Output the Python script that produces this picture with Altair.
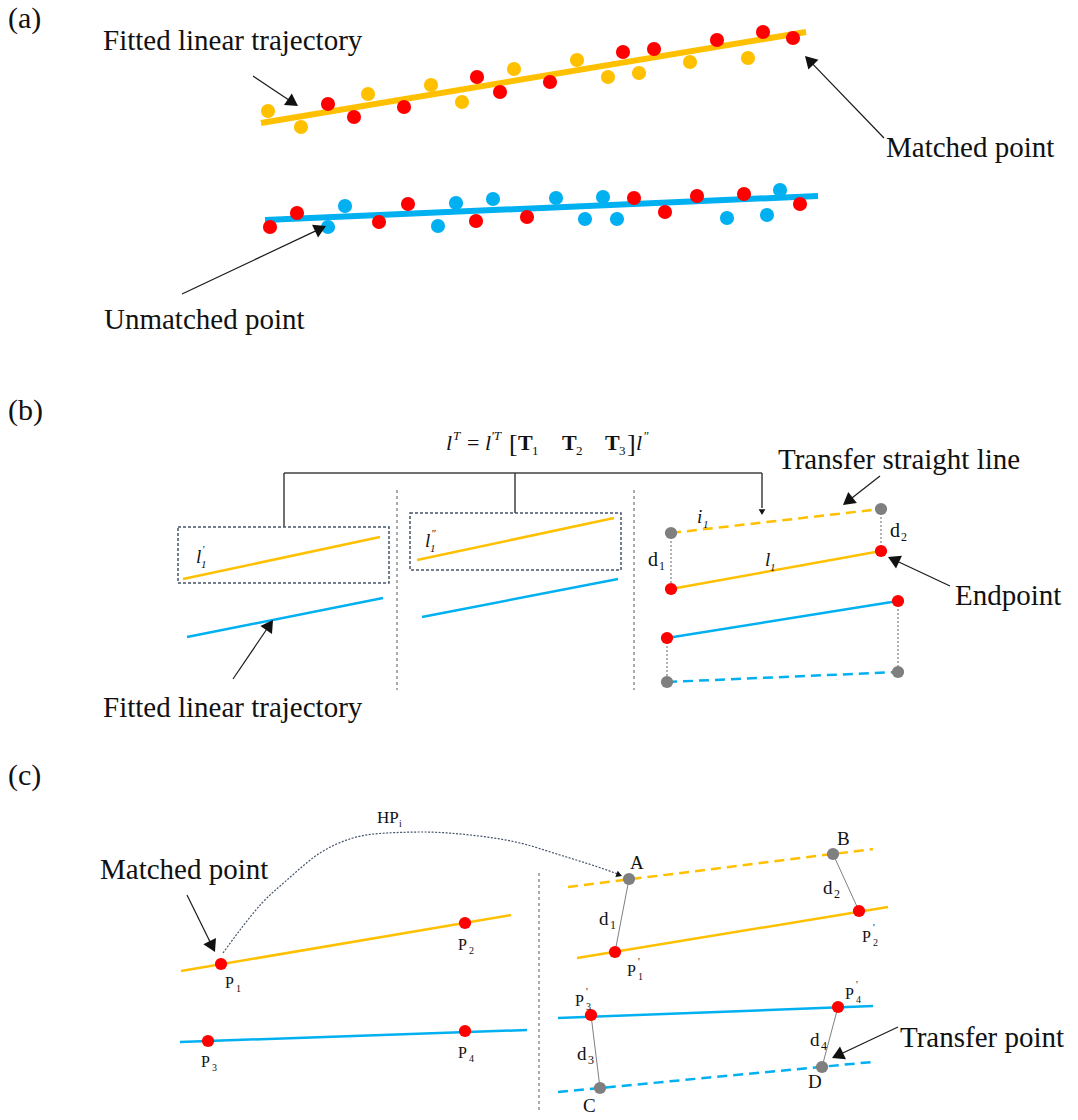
import math
import altair as alt
import pandas as pd

W, H = 1078, 1120
ORANGE = "#FFC000"
BLUE = "#00B0F0"
RED = "#FF0000"
GREY = "#7F7F7F"
SLATE = "#44546A"
DARK = "#404040"
FONT = "Liberation Serif"

# ---------------- (a) scatter points ----------------
a_orange_x = [268, 301, 368, 431, 462, 514, 577, 608, 639, 690, 748]
a_orange_y = [111, 127, 94, 85, 102, 69, 60, 77, 73, 62, 58]
a_red_top_x = [328, 354, 404, 477, 500, 550, 623, 654, 717, 763, 793]
a_red_top_y = [104, 117, 107, 77, 92, 82, 52, 49, 40, 32, 38]
a_blue_x = [328, 345, 438, 456, 493, 556, 585, 603, 617, 727, 767, 780]
a_blue_y = [227, 206, 226, 203, 199, 198, 219, 197, 219, 218, 215, 190]
a_red_bot_x = [270, 297, 379, 408, 476, 527, 634, 665, 697, 744, 800]
a_red_bot_y = [227, 213, 222, 204, 221, 217, 198, 212, 196, 194, 204]

# ---------------- markers in (b) and (c) ----------------
# (x, y, colour)
bc_points = [
    (671, 533, GREY), (881, 509, GREY), (671, 589, RED), (881, 551, RED),
    (667, 638, RED), (898, 601, RED), (667, 682, GREY), (898, 672, GREY),
    (221, 964, RED), (465, 923, RED), (208, 1041, RED), (465, 1031, RED),
    (629, 879, GREY), (833, 854, GREY), (615, 952, RED), (859, 911, RED),
    (591, 1015, RED), (838, 1007, RED), (600, 1088, GREY), (822, 1067, GREY),
]

# ---------------- segments: (x1, y1, x2, y2, colour, width) ----------------
solid_segments = [
    # (a) fitted lines
    (261, 123, 806, 32, ORANGE, 6),
    (265, 220, 818, 196, BLUE, 6),
    # (b) left / middle panels
    (183, 579, 380, 537, ORANGE, 2.5),
    (187, 637, 383, 598, BLUE, 2.5),
    (417, 560, 614, 518, ORANGE, 2.5),
    (422, 617, 618, 579, BLUE, 2.5),
    # (b) right panel
    (671, 589, 881, 551, ORANGE, 2.5),
    (667, 638, 898, 601, BLUE, 2.5),
    # (b) bracket
    (284, 473, 762, 473, DARK, 1.5),
    (284, 473, 284, 527, DARK, 1.5),
    (515, 473, 515, 513, DARK, 1.5),
    (762, 473, 762, 508, DARK, 1.5),
    # (c) left
    (181, 971, 511, 915, ORANGE, 2.5),
    (180, 1042, 527, 1030, BLUE, 2.5),
    # (c) right
    (577, 958, 888, 907, ORANGE, 2.5),
    (558, 1018, 873, 1006, BLUE, 2.5),
    # (c) distance connectors
    (629, 879, 615, 952, GREY, 1),
    (833, 854, 859, 911, GREY, 1),
    (591, 1015, 600, 1088, GREY, 1),
    (838, 1007, 822, 1067, GREY, 1),
]

dashed_segments = [
    (671, 533, 881, 509, ORANGE, 2.5),
    (667, 682, 898, 672, BLUE, 2.5),
    (568, 887, 873, 849, ORANGE, 2.5),
    (558, 1092, 872, 1062, BLUE, 2.5),
]

dotted_segments = [
    (671, 533, 671, 589, GREY, 1.2),
    (881, 509, 881, 551, GREY, 1.2),
    (667, 638, 667, 682, GREY, 1.2),
    (898, 601, 898, 672, GREY, 1.2),
]

separator_segments = [
    (397, 490, 397, 690, GREY, 1.3),
    (634, 490, 634, 690, GREY, 1.3),
    (539, 873, 539, 1110, GREY, 1.3),
]

# dotted boxes (x1, y1, x2, y2)
boxes = [(178, 527, 389, 583), (410, 513, 621, 570)]

# arrows: (tail x, tail y, tip x, tip y, head size)
arrows = [
    (253, 76, 298, 106, 196),
    (884, 138, 805, 56, 196),
    (182, 294, 326, 226, 196),
    (233, 679, 273, 620, 196),
    (880, 476, 843, 505, 196),
    (950, 586, 888, 557, 196),
    (187, 895, 215, 952, 196),
    (898, 1027, 832, 1058, 196),
]
small_arrowheads = [
    (762, 473, 762, 515, 45),
    (598, 867, 622, 876, 45),
]

# HP_i curve
hp_x = [223, 240, 262, 287, 320, 353, 387, 423, 470, 520, 560, 595, 618]
hp_y = [953, 930, 903, 880, 853, 838, 833, 832, 835, 843, 855, 866, 874]

# ---------------- text pieces: (text, x_left, y_baseline, size) ----------------
normal_text = [
    ("(a)", 8, 28, 30),
    ("Fitted linear trajectory", 103, 50, 29),
    ("Matched point", 886, 157, 29),
    ("Unmatched point", 104, 329, 29),
    ("(b)", 8, 420, 30),
    ("Transfer straight line", 778, 469, 29),
    ("Endpoint", 955, 605, 29),
    ("Fitted linear trajectory", 103, 717, 29),
    ("(c)", 8, 785, 30),
    ("Matched point", 100, 879, 29),
    ("Transfer point", 900, 1047, 29),
    # formula pieces
    ("=", 467, 450, 22),
    ("[", 509, 452, 26),
    ("1", 532, 455, 13),
    ("2", 576, 455, 13),
    ("3", 619, 455, 13),
    ("]", 627, 452, 26),
    # (b) labels
    ("d", 648, 566, 20), ("1", 659, 570, 12),
    ("d", 890, 537, 20), ("2", 901, 541, 12),
    # (c) labels
    ("HP", 377, 823, 17), ("i", 399, 827, 10),
    ("P", 225, 988, 16), ("1", 236, 992, 10),
    ("P", 458, 950, 16), ("2", 469, 954, 10),
    ("P", 201, 1067, 16), ("3", 212, 1071, 10),
    ("P", 458, 1058, 16), ("4", 469, 1062, 10),
    ("P", 627, 976, 16), ("'", 638, 965, 10), ("1", 638, 980, 10),
    ("P", 862, 942, 16), ("'", 873, 931, 10), ("2", 873, 946, 10),
    ("P", 575, 1006, 16), ("'", 586, 995, 10), ("3", 586, 1010, 10),
    ("P", 845, 999, 16), ("'", 856, 988, 10), ("4", 856, 1003, 10),
    ("A", 630, 869, 19),
    ("B", 837, 845, 19),
    ("C", 583, 1112, 19),
    ("D", 808, 1088, 19),
    ("d", 599, 925, 19), ("1", 610, 929, 12),
    ("d", 823, 894, 19), ("2", 834, 898, 12),
    ("d", 577, 1060, 19), ("3", 588, 1064, 12),
    ("d", 810, 1046, 19), ("4", 821, 1050, 12),
]
italic_text = [
    ("l", 446, 450, 22), ("T", 453, 440, 13),
    ("l", 485, 450, 22), ("'T", 491, 440, 13),
    ("l", 636, 450, 22), ("\"", 643, 440, 13),
    ("l", 196, 563, 19), ("'", 202, 553, 11), ("1", 201, 568, 11),
    ("l", 425, 547, 19), ("\"", 431, 537, 11), ("1", 430, 552, 11),
    ("i", 697, 523, 19), ("1", 703, 528, 11),
    ("l", 765, 566, 19), ("1", 770, 571, 11),
]
bold_text = [
    ("T", 518, 450, 22),
    ("T", 562, 450, 22),
    ("T", 605, 450, 22),
]

# ---------------- build tables ----------------
XS = alt.Scale(domain=[0, W], range=[0, W], nice=False, zero=False)
YS = alt.Scale(domain=[0, H], reverse=True, nice=False, zero=False)


def X(f):
    return alt.X(f, type="quantitative", scale=XS, axis=None)


def Y(f):
    return alt.Y(f, type="quantitative", scale=YS, axis=None)


def seg_df(segs):
    return pd.DataFrame(segs, columns=["x", "y", "x2", "y2", "c", "w"])


def rule_layer(segs, dash=None):
    kw = {}
    if dash is not None:
        kw["strokeDash"] = dash
    return alt.Chart(seg_df(segs)).mark_rule(**kw).encode(
        x=X("x"), y=Y("y"), x2="x2:Q", y2="y2:Q",
        color=alt.Color("c:N", scale=None),
        strokeWidth=alt.StrokeWidth("w:Q", scale=None),
    )


layers = []
layers.append(rule_layer(solid_segments))
layers.append(rule_layer(dashed_segments, [10, 6]))
layers.append(rule_layer(dotted_segments, [2, 2]))
layers.append(rule_layer(separator_segments, [3, 3]))

box_df = pd.DataFrame(boxes, columns=["x", "y", "x2", "y2"])
layers.append(
    alt.Chart(box_df).mark_rect(fill=None, stroke=SLATE, strokeWidth=1.5, strokeDash=[3, 2]).encode(
        x=X("x"), y=Y("y"), x2="x2:Q", y2="y2:Q"
    )
)

hp_df = pd.DataFrame({"x": hp_x, "y": hp_y, "o": list(range(len(hp_x)))})
layers.append(
    alt.Chart(hp_df).mark_line(interpolate="monotone", color=SLATE, strokeWidth=1.2, strokeDash=[2, 1.5]).encode(
        x=X("x"), y=Y("y"), order="o:Q"
    )
)

# arrows: shafts + heads
shaft_rows, head_rows = [], []
for (tx, ty, hx, hy, s) in arrows + small_arrowheads:
    dx, dy = hx - tx, hy - ty
    L = math.hypot(dx, dy)
    ux, uy = dx / L, dy / L
    r = math.sqrt(s) / 2
    back = 0.866 * r
    cx, cy = hx - ux * back, hy - uy * back
    ang = math.degrees(math.atan2(dx, -dy)) % 360
    head_rows.append({"x": cx, "y": cy, "a": ang, "s": s})
    if s > 100:
        shaft_rows.append({"x": tx, "y": ty, "x2": cx, "y2": cy})
shaft_df = pd.DataFrame(shaft_rows)
layers.append(
    alt.Chart(shaft_df).mark_rule(color="#1a1a1a", strokeWidth=1.2).encode(
        x=X("x"), y=Y("y"), x2="x2:Q", y2="y2:Q"
    )
)

# points
pts = []
for xs, ys, c in [(a_orange_x, a_orange_y, ORANGE), (a_red_top_x, a_red_top_y, RED),
                  (a_blue_x, a_blue_y, BLUE), (a_red_bot_x, a_red_bot_y, RED)]:
    for x, y in zip(xs, ys):
        pts.append({"x": x, "y": y, "c": c, "s": 200})
for x, y, c in bc_points:
    pts.append({"x": x, "y": y, "c": c, "s": 150})
pt_df = pd.DataFrame(pts)
layers.append(
    alt.Chart(pt_df).mark_point(shape="circle", filled=True, opacity=1, strokeWidth=0).encode(
        x=X("x"), y=Y("y"),
        color=alt.Color("c:N", scale=None),
        size=alt.Size("s:Q", scale=None),
    )
)

head_df = pd.DataFrame(head_rows)
layers.append(
    alt.Chart(head_df).mark_point(shape="triangle-up", filled=True, opacity=1, color="#111111", strokeWidth=0).encode(
        x=X("x"), y=Y("y"),
        angle=alt.Angle("a:Q", scale=None),
        size=alt.Size("s:Q", scale=None),
    )
)


def text_layer(rows, **kw):
    df = pd.DataFrame(rows, columns=["t", "x", "y", "s"])
    return alt.Chart(df).mark_text(font=FONT, align="left", baseline="alphabetic", color="#111111", **kw).encode(
        x=X("x"), y=Y("y"), text="t:N", size=alt.Size("s:Q", scale=None)
    )


layers.append(text_layer(normal_text))
layers.append(text_layer(italic_text, fontStyle="italic"))
layers.append(text_layer(bold_text, fontWeight="bold"))

chart = alt.layer(*layers).properties(
    width=W, height=H, padding=0, background="white",
    autosize=alt.AutoSizeParams(type="none"),
).configure_view(stroke=None)

chart.save("out.html", embed_options={"renderer": "svg", "actions": False})
